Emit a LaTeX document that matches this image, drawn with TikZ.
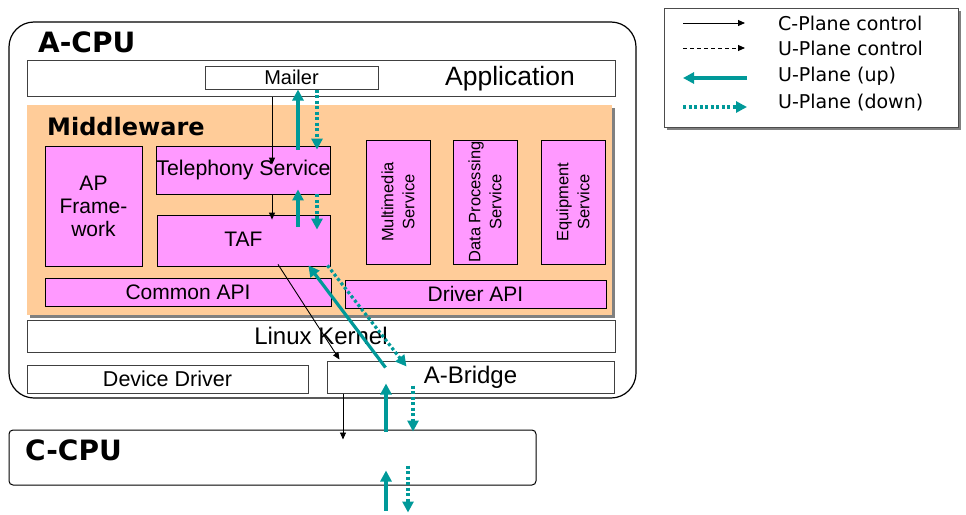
\documentclass[tikz,border=0pt]{standalone}
\usepackage{fontspec}
\setmainfont{Liberation Sans}
\newfontfamily\heavyfont{DejaVu Sans}
\newfontfamily\legendfont{DejaVu Sans}
\usetikzlibrary{arrows.meta,calc}
\definecolor{peach}{HTML}{FFCC99}
\definecolor{pinkfill}{HTML}{FF99FF}
\definecolor{uteal}{HTML}{009999}
\newcommand\setsz[2]{\fontsize{#1}{#2}\selectfont}
\tikzset{
  shadowed/.style={preaction={fill=black!50, draw=none,
      transform canvas={shift={(3pt,-3pt)}}}},
  plainbox/.style={draw=black!75, line width=1pt, fill=white, inner sep=0pt},
  pinkbox/.style={draw=black, line width=0.8pt, fill=pinkfill, inner sep=0pt, align=center},
  title/.style={anchor=west, inner sep=0pt, font=\heavyfont\bfseries\setsz{#1}{#1}},
  cplane/.style={line width=0.9pt, -{Triangle[length=7pt,width=6pt]}},
  ucontrol/.style={cplane, dash pattern=on 4pt off 3pt},
  uup/.style={draw=uteal, line width=3.2pt, -{Triangle[length=11pt,width=11pt]}, shorten >=0pt},
  udn/.style={uup, dash pattern=on 3pt off 2.5pt},
  legtext/.style={anchor=west, inner sep=0pt, font=\legendfont\setsz{19}{19}}
}
\begin{document}
\begin{tikzpicture}[x=1pt, y=-1pt]
\useasboundingbox (0,0) rectangle (966,514);

% ---------- A-CPU ----------
\node[draw, line width=1.2pt, rounded corners=25pt, minimum width=627pt,
      minimum height=376pt, inner sep=0pt] (acpu) at (322.5,210) {};
\node[title=28] (acputitle) at (38,42) {A-CPU};

% application layer
\node[plainbox, minimum width=588pt, minimum height=36pt] (app) at (321,78) {};
\node[inner sep=0pt, font=\setsz{26.5}{26.5}] (apptext) at (510,79) {Application};
\node[plainbox, minimum width=173pt, minimum height=23pt, font=\setsz{20}{20}]
      (mailer) at (291.5,77.5) {Mailer};

% middleware layer
\node[shadowed, fill=peach, minimum width=585pt, minimum height=210pt, inner sep=0pt]
      (mw) at (319.5,210) {};
\node[title=24] (mwtitle) at (47,127) {Middleware};

\node[pinkbox, minimum width=97pt, minimum height=120pt, font=\setsz{21}{23}]
      (apfw) at (93.5,206) {AP\\Frame-\\work};
\node[pinkbox, minimum width=173pt, minimum height=48pt, font=\setsz{21.3}{21.3}]
      (tel) at (243.5,170) {Telephony Service};
\node[pinkbox, minimum width=173pt, minimum height=51pt, font=\setsz{21}{21}]
      (taf) at (243.5,240.5) {\raisebox{3pt}{TAF}};

\node[pinkbox, minimum width=64pt, minimum height=124pt] (mm) at (398,202) {};
\node[pinkbox, minimum width=64pt, minimum height=124pt] (dp) at (485,202) {};
\node[pinkbox, minimum width=64pt, minimum height=124pt] (eq) at (573,202) {};
\node[rotate=90, align=center, inner sep=0pt, font=\setsz{16.5}{21}] (mmtext) at (mm) {Multimedia\\Service};
\node[rotate=90, align=center, inner sep=0pt, font=\setsz{16.5}{21}] (dptext) at (dp) {Data Processing\\Service};
\node[rotate=90, align=center, inner sep=0pt, font=\setsz{16.5}{21}] (eqtext) at (eq) {Equipment\\Service};

\node[pinkbox, minimum width=286pt, minimum height=28pt, font=\setsz{21}{21}]
      (capi) at (188,292) {Common API};
\node[pinkbox, minimum width=261pt, minimum height=28pt, font=\setsz{21}{21}]
      (dapi) at (475.5,294) {Driver API};

% kernel and drivers
\node[plainbox, minimum width=588pt, minimum height=32pt, font=\setsz{24}{24}]
      (kernel) at (321,336) {Linux Kernel};
\node[plainbox, minimum width=281pt, minimum height=28pt, font=\setsz{21.5}{21.5}]
      (devdrv) at (167.5,379) {Device Driver};
\node[plainbox, minimum width=287pt, minimum height=32pt, font=\setsz{24}{24}]
      (abridge) at (470.5,377) {A-Bridge};

% ---------- C-CPU ----------
\node[draw, line width=1pt, rounded corners=4pt, minimum width=527pt,
      minimum height=55pt, inner sep=0pt] (ccpu) at (272.5,457.5) {};
\node[title=28] (ccputitle) at (25,450) {C-CPU};

% ---------- flows ----------
\path (272,0) coordinate (cx1) (343,0) coordinate (cx2)
      (298,0) coordinate (ux1) (317,0) coordinate (dx1)
      (386,0) coordinate (ux2) (413,0) coordinate (dx2) (408,0) coordinate (dx3);

% C-plane control
\draw[cplane] (cx1 |- app.south) -- ($(cx1 |- tel.north)+(0,19)$);
\draw[cplane] (cx1 |- tel.south) -- ($(cx1 |- taf.north)+(0,5)$);
\draw[cplane] ($(taf.south)+(34.5,-2)$) -- ($(abridge.north west)+(13,-1)$);
\draw[cplane] (cx2 |- abridge.south) -- ($(cx2 |- ccpu.north)+(0,10)$);

% U-plane between Mailer and Telephony Service
\draw[uup] ($(ux1 |- tel.north)+(0,4)$) -- (ux1 |- mailer.south);
\draw[udn] (dx1 |- mailer.south) -- ($(dx1 |- tel.north)+(0,4)$);
% U-plane between Telephony Service and TAF
\draw[uup] ($(ux1 |- taf.north)+(0,12)$) -- ($(ux1 |- tel.south)+(0,-5)$);
\draw[udn] (dx1 |- tel.south) -- ($(dx1 |- taf.north)+(0,15)$);
% U-plane between TAF and A-Bridge
\draw[uup] ($(abridge.north west)+(59,7)$) -- ($(taf.south east)+(-22,-1)$);
\draw[udn] ($(taf.south east)+(-3,-1)$) -- ($(abridge.north west)+(80,6)$);
% U-plane between A-Bridge and C-CPU
\draw[uup] ($(ux2 |- ccpu.north)+(0,2)$) -- ($(ux2 |- abridge.south)+(0,-10)$);
\draw[udn] ($(dx2 |- abridge.south)+(0,-8)$) -- ($(dx2 |- ccpu.north)+(0,2)$);
% U-plane below C-CPU
\draw[uup] ($(ux2 |- ccpu.south)+(0,25)$) -- ($(ux2 |- ccpu.south)+(0,-15)$);
\draw[udn] ($(dx3 |- ccpu.south)+(0,-20)$) -- ($(dx3 |- ccpu.south)+(0,27)$);

% ---------- legend ----------
\node[shadowed, draw=black!70, line width=1pt, fill=white, minimum width=294pt,
      minimum height=119pt, inner sep=0pt] (legend) at (811,67.5) {};
\node[legtext] (lt1) at (778,23) {C-Plane control};
\node[legtext] (lt2) at (778,48) {U-Plane control};
\node[legtext] (lt3) at (778,76) {U-Plane (up)};
\node[legtext] (lt4) at (778,103) {U-Plane (down)};
\path (683,23) coordinate (l1a) (745,23) coordinate (l1b)
      (683,48) coordinate (l2a) (745,48) coordinate (l2b)
      (747,78) coordinate (l3a) (683,78) coordinate (l3b)
      (683,107) coordinate (l4a) (747,107) coordinate (l4b);
\draw[cplane] (l1a) -- (l1b);
\draw[ucontrol] (l2a) -- (l2b);
\draw[uup] (l3a) -- (l3b);
\draw[udn] (l4a) -- (l4b);
\end{tikzpicture}
\end{document}
